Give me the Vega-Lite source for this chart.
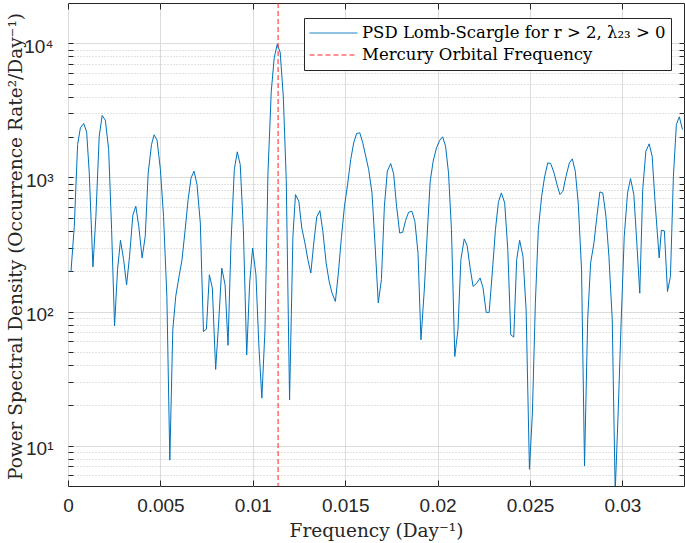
{
  "$schema": "https://vega.github.io/schema/vega-lite/v6.json",
  "width": 616,
  "height": 483,
  "autosize": {"type": "none"},
  "padding": {"left": 68, "top": 3, "right": 1, "bottom": 57},
  "background": "white",
  "config": {
    "view": {"stroke": "#262626", "strokeWidth": 1},
    "axis": {"domain": false, "tickColor": "#262626", "tickWidth": 1, "labelColor": "#262626", "labelFont": "Liberation Sans", "labelFontSize": 19, "titleFont": "DejaVu Serif", "titleFontSize": 18.5, "titleFontWeight": "normal", "titleColor": "#262626"},
    "legend": {
      "orient": "none", "legendX": 236, "legendY": 15, "fillColor": "white", "strokeColor": "#262626", "padding": 5,
      "symbolType": "stroke", "symbolSize": 2304, "symbolStrokeWidth": 1, "labelFont": "DejaVu Serif", "labelFontSize": 16.5,
      "labelColor": "#000000", "labelOffset": 4, "rowPadding": 2, "clipHeight": 20, "labelLimit": 500
    }
  },
  "datasets": {
    "psd": [
      {"f":0.00016,"p":197},{"f":0.00034,"p":432},{"f":0.00052,"p":1761},{"f":0.00067,"p":2344},{"f":0.00085,"p":2528},{"f":0.00101,"p":2177},{"f":0.00115,"p":1082},{"f":0.00135,"p":215},{"f":0.00151,"p":513},{"f":0.00169,"p":2032},{"f":0.00185,"p":2899},{"f":0.00202,"p":2676},{"f":0.0022,"p":1616},{"f":0.00236,"p":408},{"f":0.00252,"p":78},{"f":0.00268,"p":205},{"f":0.00284,"p":340},{"f":0.00301,"p":244},{"f":0.00317,"p":158},{"f":0.00333,"p":258},{"f":0.00351,"p":525},{"f":0.00367,"p":610},{"f":0.00383,"p":432},{"f":0.00401,"p":251},{"f":0.00418,"p":364},{"f":0.00434,"p":1082},{"f":0.00452,"p":1761},{"f":0.00466,"p":2080},{"f":0.00482,"p":1897},{"f":0.005,"p":1146},{"f":0.00517,"p":513},{"f":0.00535,"p":130},{"f":0.00551,"p":7.8},{"f":0.00567,"p":73},{"f":0.00583,"p":130},{"f":0.00601,"p":183},{"f":0.00617,"p":244},{"f":0.00634,"p":408},{"f":0.0065,"p":684},{"f":0.00666,"p":993},{"f":0.00682,"p":1114},{"f":0.00698,"p":885},{"f":0.00716,"p":458},{"f":0.00733,"p":71},{"f":0.00749,"p":74},{"f":0.00765,"p":188},{"f":0.00781,"p":150},{"f":0.00799,"p":37},{"f":0.00815,"p":82},{"f":0.00832,"p":211},{"f":0.0085,"p":158},{"f":0.00866,"p":56},{"f":0.00882,"p":325},{"f":0.009,"p":1146},{"f":0.00916,"p":1552},{"f":0.00932,"p":1248},{"f":0.00949,"p":408},{"f":0.00967,"p":47.5},{"f":0.00983,"p":163},{"f":0.00999,"p":298},{"f":0.01017,"p":188},{"f":0.01033,"p":55},{"f":0.01049,"p":22.6},{"f":0.01066,"p":73},{"f":0.01082,"p":1082},{"f":0.011,"p":4406},{"f":0.01116,"p":7816},{"f":0.01132,"p":9830},{"f":0.01148,"p":8616},{"f":0.01165,"p":4045},{"f":0.01181,"p":965},{"f":0.01199,"p":21.9},{"f":0.01217,"p":364},{"f":0.01231,"p":745},{"f":0.01249,"p":664},{"f":0.01265,"p":420},{"f":0.01282,"p":325},{"f":0.01298,"p":244},{"f":0.01314,"p":194},{"f":0.0133,"p":325},{"f":0.01346,"p":508},{"f":0.01363,"p":566},{"f":0.01379,"p":397},{"f":0.01397,"p":230},{"f":0.01413,"p":168},{"f":0.01429,"p":137},{"f":0.01447,"p":119},{"f":0.01463,"p":194},{"f":0.0148,"p":364},{"f":0.01496,"p":610},{"f":0.01514,"p":911},{"f":0.0153,"p":1361},{"f":0.01546,"p":1811},{"f":0.01562,"p":2128},{"f":0.01579,"p":2153},{"f":0.01595,"p":1811},{"f":0.01611,"p":1441},{"f":0.01627,"p":1146},{"f":0.01645,"p":767},{"f":0.01661,"p":325},{"f":0.01679,"p":116},{"f":0.01696,"p":173},{"f":0.01712,"p":610},{"f":0.01728,"p":1114},{"f":0.01746,"p":1270},{"f":0.01762,"p":1069},{"f":0.01778,"p":610},{"f":0.01795,"p":385},{"f":0.01811,"p":390},{"f":0.01827,"p":479},{"f":0.01843,"p":550},{"f":0.01861,"p":560},{"f":0.01877,"p":471},{"f":0.01894,"p":273},{"f":0.0191,"p":61.6},{"f":0.01928,"p":145},{"f":0.01944,"p":385},{"f":0.0196,"p":938},{"f":0.01976,"p":1322},{"f":0.01994,"p":1663},{"f":0.02011,"p":1888},{"f":0.02027,"p":2009},{"f":0.02043,"p":1711},{"f":0.02059,"p":1082},{"f":0.02075,"p":408},{"f":0.02093,"p":46.2},{"f":0.0211,"p":73},{"f":0.02126,"p":244},{"f":0.02144,"p":348},{"f":0.0216,"p":310},{"f":0.02176,"p":211},{"f":0.02192,"p":154},{"f":0.02209,"p":161},{"f":0.0223,"p":178},{"f":0.02246,"p":150},{"f":0.02263,"p":98.6},{"f":0.02279,"p":98.6},{"f":0.02297,"p":205},{"f":0.02313,"p":408},{"f":0.02329,"p":653},{"f":0.02345,"p":767},{"f":0.02363,"p":646},{"f":0.0238,"p":289},{"f":0.02396,"p":67},{"f":0.02412,"p":64.5},{"f":0.02428,"p":244},{"f":0.02444,"p":340},{"f":0.02462,"p":258},{"f":0.02479,"p":103},{"f":0.02497,"p":6.66},{"f":0.02513,"p":17.5},{"f":0.02529,"p":116},{"f":0.02545,"p":408},{"f":0.02563,"p":724},{"f":0.02579,"p":1010},{"f":0.02596,"p":1284},{"f":0.02612,"p":1270},{"f":0.0263,"p":1082},{"f":0.02646,"p":885},{"f":0.02662,"p":745},{"f":0.02678,"p":789},{"f":0.02695,"p":1021},{"f":0.02713,"p":1284},{"f":0.02729,"p":1376},{"f":0.02745,"p":1114},{"f":0.02761,"p":646},{"f":0.02779,"p":205},{"f":0.02795,"p":7.05},{"f":0.02812,"p":86.9},{"f":0.02828,"p":230},{"f":0.02846,"p":325},{"f":0.02862,"p":513},{"f":0.02878,"p":780},{"f":0.02894,"p":767},{"f":0.02911,"p":513},{"f":0.02927,"p":258},{"f":0.02945,"p":86.9},{"f":0.02961,"p":4.5},{"f":0.02977,"p":17.5},{"f":0.02993,"p":82},{"f":0.0301,"p":364},{"f":0.03028,"p":767},{"f":0.03044,"p":981},{"f":0.03062,"p":745},{"f":0.03078,"p":325},{"f":0.03094,"p":137},{"f":0.0311,"p":812},{"f":0.03127,"p":1570},{"f":0.03145,"p":1781},{"f":0.03161,"p":1441},{"f":0.03177,"p":646},{"f":0.03199,"p":251},{"f":0.03211,"p":404},{"f":0.03227,"p":400},{"f":0.03244,"p":141},{"f":0.0326,"p":183},{"f":0.03276,"p":1021},{"f":0.03292,"p":2483},{"f":0.03308,"p":2833},{"f":0.03325,"p":2279}
    ],
    "mercury": [{"f": 0.011368}]
  },
  "layer": [
    {
      "data": {"name": "psd"},
      "mark": {"type": "line", "strokeWidth": 1, "clip": true},
      "encoding": {
        "x": {
          "field": "f", "type": "quantitative",
          "scale": {"domain": [0, 0.0333333], "nice": false, "zero": false},
          "axis": {
            "orient": "bottom", "values": [0, 0.005, 0.01, 0.015, 0.02, 0.025, 0.03], "format": "~g",
            "grid": true, "gridColor": "#dcdcdc", "gridWidth": 1, "tickSize": -6, "labelPadding": 16,
            "labelFlush": false, "labelOverlap": false, "labelBaseline": "top",
            "title": "Frequency (Day⁻¹)", "titleX": 308, "titleY": 50, "titleBaseline": "alphabetic", "titleAnchor": "middle"
          }
        },
        "y": {
          "field": "p", "type": "quantitative",
          "scale": {"type": "log", "domain": [5, 20000], "nice": false},
          "axis": {
            "orient": "left",
            "values": [6,7,8,9,10,20,30,40,50,60,70,80,90,100,200,300,400,500,600,700,800,900,1000,2000,3000,4000,5000,6000,7000,8000,9000,10000],
            "labelExpr": "datum.value == 10 ? '10¹' : datum.value == 100 ? '10²' : datum.value == 1000 ? '10³' : datum.value == 10000 ? '10⁴' : ''",
            "grid": true,
            "gridColor": {"condition": {"test": "datum.value == 10 || datum.value == 100 || datum.value == 1000 || datum.value == 10000", "value": "#dcdcdc"}, "value": "#c4c4c4"},
            "gridDash": {"condition": {"test": "datum.value == 10 || datum.value == 100 || datum.value == 1000 || datum.value == 10000", "value": []}, "value": [1, 2]},
            "tickSize": -5, "labelPadding": 20, "labelOverlap": false, "labelOffset": 3, "labelBaseline": "middle",
            "title": "Power Spectral Density (Occurrence Rate²/Day⁻¹)", "titleX": -53, "titleY": 243, "titleAngle": 270, "titleBaseline": "middle", "titleAnchor": "middle"
          }
        },
        "color": {
          "datum": "PSD Lomb-Scargle for r > 2, λ₂₃ > 0", "type": "nominal",
          "scale": {"domain": ["PSD Lomb-Scargle for r > 2, λ₂₃ > 0", "Mercury Orbital Frequency"], "range": ["#0072BD", "#FF2020"]},
          "legend": {"title": null, "encode": {"symbols": {"update": {"strokeDash": {"signal": "datum.value === 'Mercury Orbital Frequency' ? [5, 3] : [1, 0]"}}}}}
        }
      }
    },
    {
      "data": {"name": "mercury"},
      "mark": {"type": "rule", "strokeWidth": 1, "strokeDash": [5, 3]},
      "encoding": {
        "x": {
          "field": "f", "type": "quantitative",
          "axis": {"orient": "top", "values": [0, 0.005, 0.01, 0.015, 0.02, 0.025, 0.03], "labels": false, "grid": false, "tickSize": -6, "title": null}
        },
        "color": {"datum": "Mercury Orbital Frequency", "type": "nominal"}
      }
    },
    {
      "data": {"name": "psd"},
      "mark": {"type": "line", "opacity": 0, "strokeOpacity": 0},
      "encoding": {
        "x": {"field": "f", "type": "quantitative", "axis": null},
        "y": {
          "field": "p", "type": "quantitative",
          "axis": {
            "orient": "right",
            "values": [6,7,8,9,10,20,30,40,50,60,70,80,90,100,200,300,400,500,600,700,800,900,1000,2000,3000,4000,5000,6000,7000,8000,9000,10000],
            "labels": false, "grid": false, "tickSize": -5, "title": null
          }
        }
      }
    }
  ],
  "resolve": {"axis": {"x": "independent", "y": "independent"}}
}
